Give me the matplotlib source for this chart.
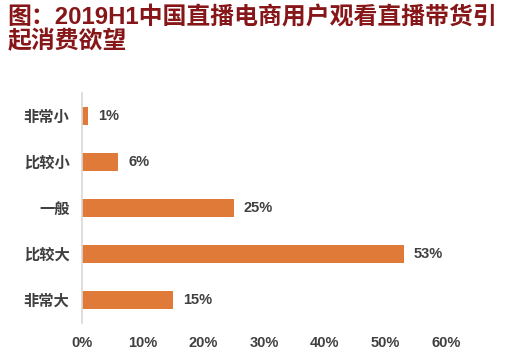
import matplotlib
matplotlib.use("Agg")
import matplotlib.pyplot as plt

plt.rcParams['font.family'] = ['Liberation Sans', 'Noto Sans CJK SC', 'DejaVu Sans']

categories = ['非常小', '比较小', '一般', '比较大', '非常大']
values = [1, 6, 25, 53, 15]
xticks = [0, 10, 20, 30, 40, 50, 60]
title = '图：2019H1中国直播电商用户观看直播带货引\n起消费欲望'

bar_color = '#E07A38'
text_color = '#404040'

fig = plt.figure(figsize=(5.11, 3.55), dpi=100)
ax = fig.add_axes([0.1605, 0.09, 0.873 - 0.1605, 0.648])

y = list(range(len(categories)))
ax.barh(y, values, height=0.38, color=bar_color)
for yi, v in zip(y, values):
    ax.annotate(f'{v}%', (v, yi), xytext=(7, 0), textcoords='offset points',
                va='center', ha='left', fontsize=10.5, fontweight='bold', color=text_color)

ax.set_ylim(len(categories) - 0.5, -0.5)
ax.set_xlim(0, 60)
ax.set_yticks(y)
ax.set_yticklabels(categories, fontsize=11, fontweight='bold', color=text_color)
ax.set_xticks(xticks)
ax.set_xticklabels([f'{t}%' for t in xticks], fontsize=10.5, fontweight='bold', color=text_color)
ax.tick_params(length=0)
ax.tick_params(axis='y', pad=9)
ax.tick_params(axis='x', pad=9)
for s in ['top', 'right', 'bottom']:
    ax.spines[s].set_visible(False)
ax.spines['left'].set_color('#D9D9D9')
ax.spines['left'].set_linewidth(1.2)

fig.text(0.014, 0.985, title, ha='left', va='top', fontsize=17.2, fontweight='bold',
         color='#861618', linespacing=1.1)

fig.savefig('out.png', dpi=100)
